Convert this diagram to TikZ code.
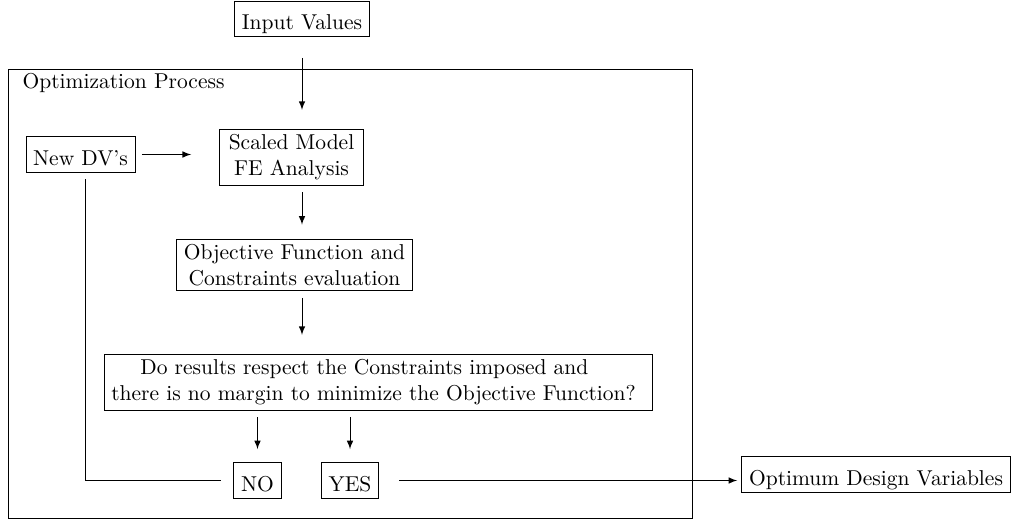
\documentclass[tikz,border=0pt]{standalone}
\usetikzlibrary{arrows,calc}
\begin{document}
\begin{tikzpicture}[x=0.465pt,y=-0.465pt,
    box/.style={draw, align=center, inner ysep=2.4pt},
    onebox/.style={draw, text height=10pt, text depth=0pt},
    link/.style={-latex, shorten <=3pt, shorten >=9pt}]
      \useasboundingbox (0,0) rectangle (1014,526);
      % frame of the optimization loop
      \draw (8,69) rectangle (692,518);
      \node[anchor=west] (title) at (15,83) {Optimization Process};
      % boxes
      \node[onebox] (input) at (302,19) {Input Values};
      \node[onebox] (newdv) at (80.5,154.5) {New DV's};
      \node[box, minimum width=67pt] (scaled) at (291.5,157.5) {Scaled Model\\FE Analysis};
      \node[box] (objective) at (294.5,265) {Objective Function and\\Constraints evaluation};
      \node[box, text width=248.5pt, align=left] (results) at (378.5,382.5) {\hspace*{13.5pt}Do results respect the Constraints imposed and\\there is no margin to minimize the Objective Function?};
      \node[onebox] (no) at (257.5,480.5) {NO};
      \node[onebox] (yes) at (350,480.5) {YES};
      \node[onebox] (optimum) at (876,474.5) {Optimum Design Variables};
      % arrows down the loop
      \draw[link, shorten <=9.5pt] (input.south) -- (input.south |- scaled.north);
      \draw[link, shorten >=6.5pt] (input.south |- scaled.south) -- (input.south |- objective.north);
      \draw[link] (input.south |- objective.south) -- (input.south |- results.north);
      \draw[link, shorten >=6pt] (no.north |- results.south) -- (no.north);
      \draw[link, shorten >=6pt] (yes.north |- results.south) -- (yes.north);
      \draw[link, shorten >=13pt] (newdv.east) -- (newdv.east -| scaled.west);
      % back to new design variables
      \draw[shorten <=6pt, shorten >=3pt] (no.west) -| ($(newdv.south)+(5,0)$);
      % way out
      \draw[-latex, shorten <=9.5pt, shorten >=2pt] (yes.east) -- (yes.east -| optimum.west);
\end{tikzpicture}
\end{document}
